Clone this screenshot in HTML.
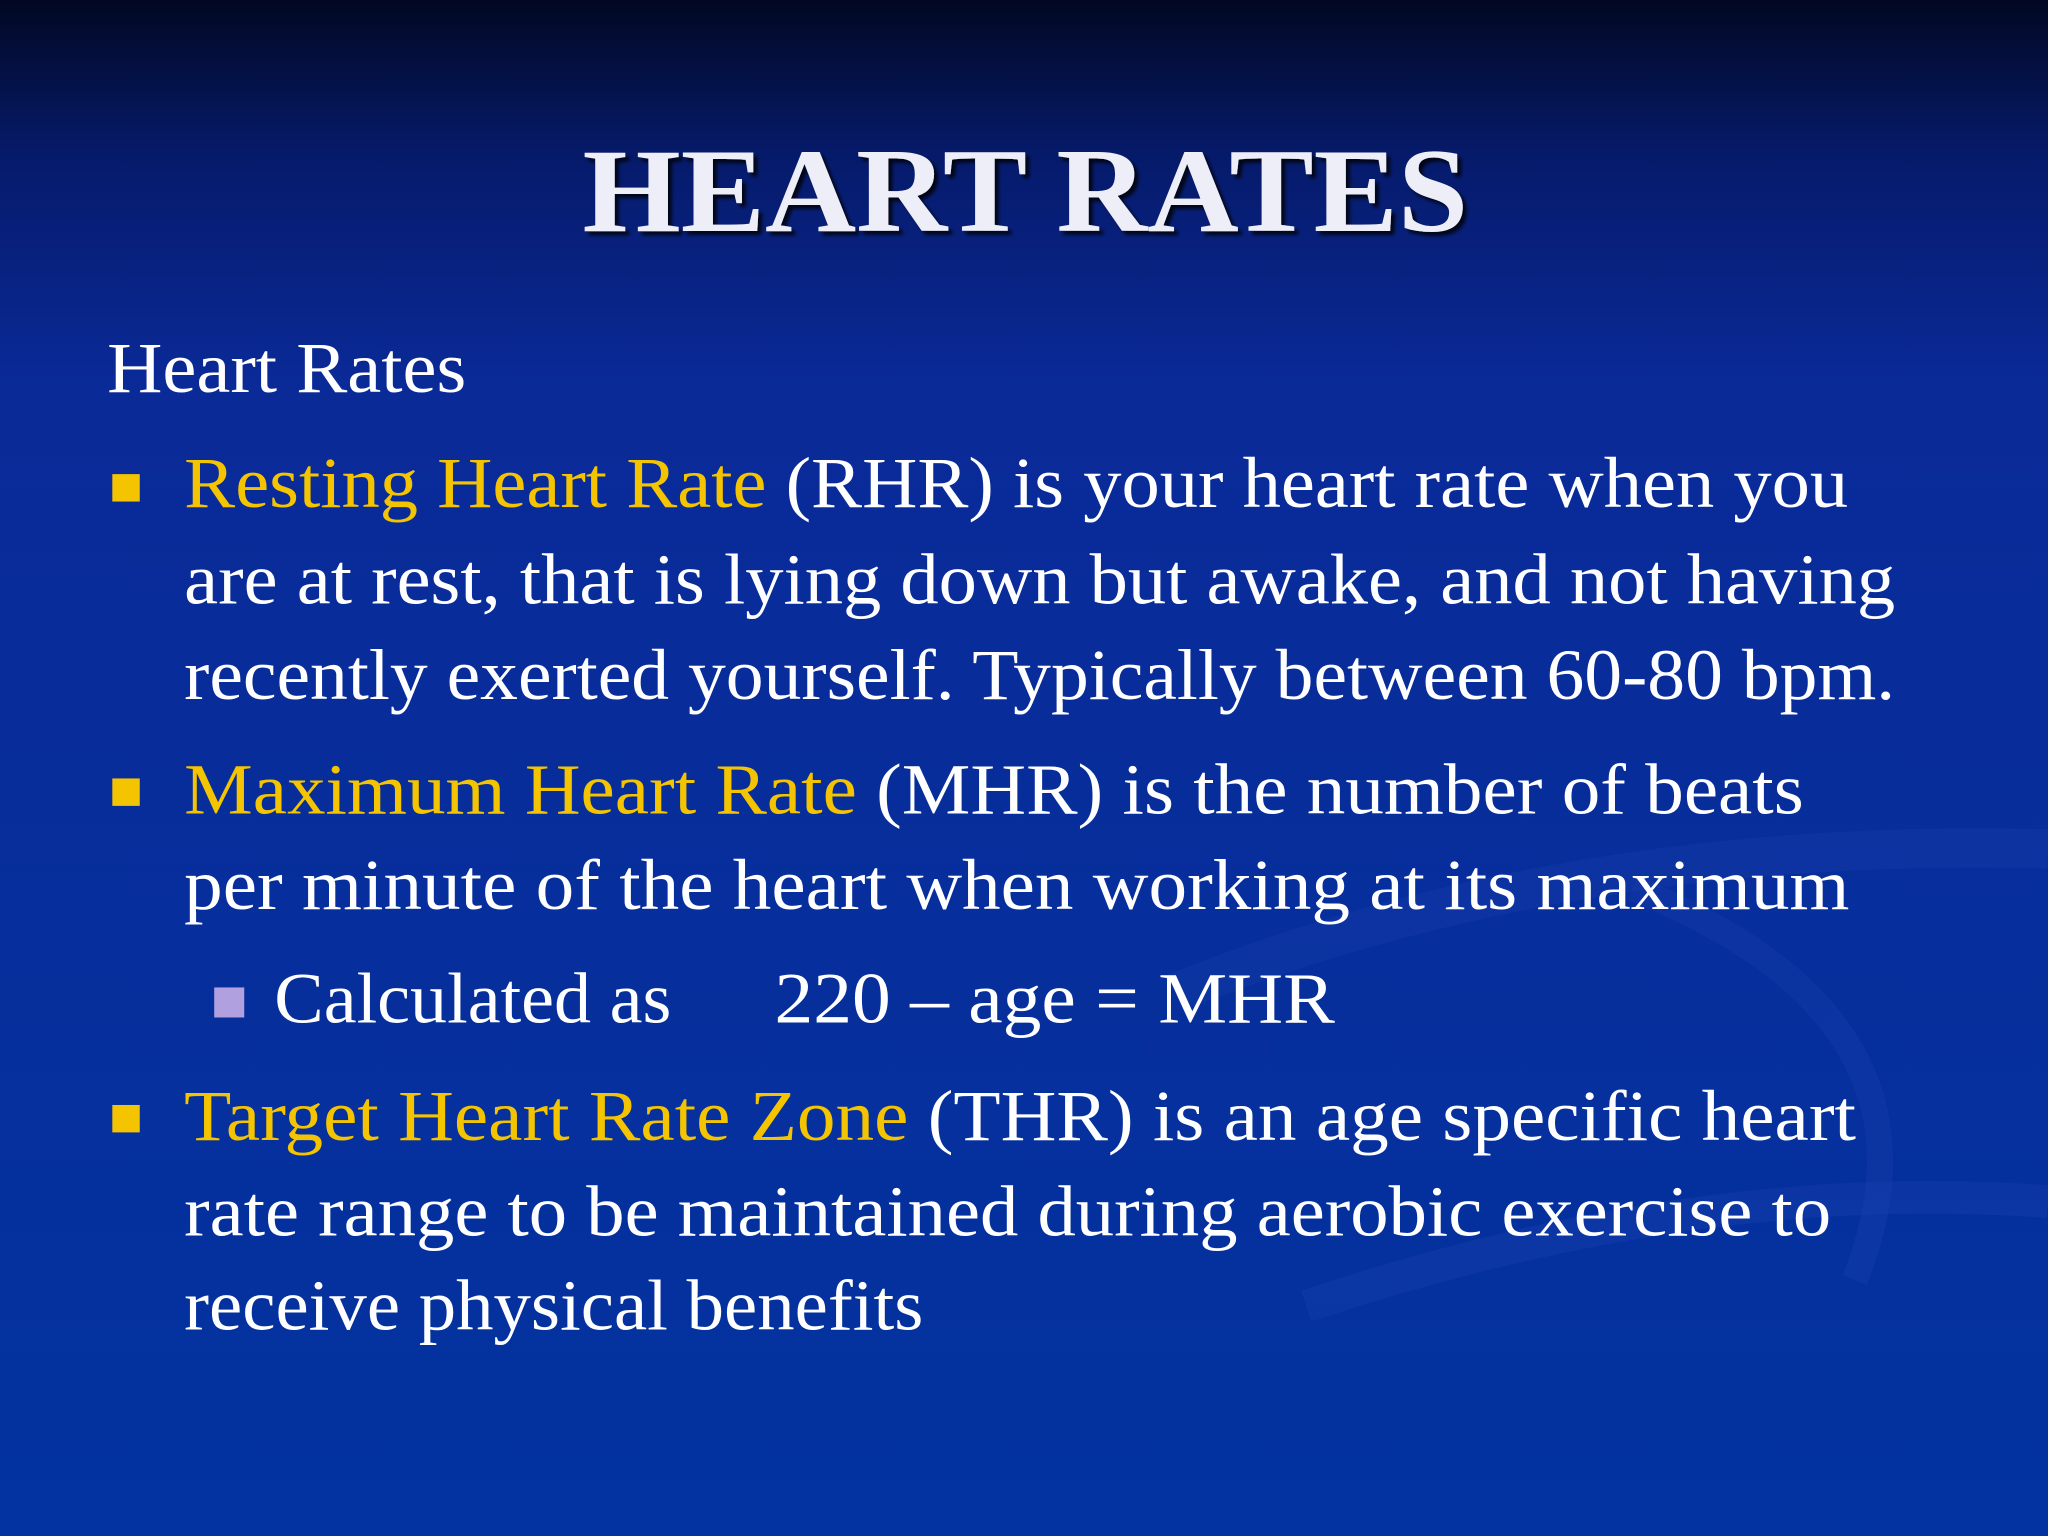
<!DOCTYPE html>
<html><head><meta charset="utf-8"><style>
html,body{margin:0;padding:0;width:2048px;height:1536px;overflow:hidden;background:#0a2a9a}
svg{display:block}
text{font-family:"Liberation Serif",serif}
</style></head><body>
<svg width="2048" height="1536" viewBox="0 0 1568 1176" xmlns="http://www.w3.org/2000/svg">
<defs>
<linearGradient id="bg" x1="0" y1="0" x2="0" y2="1">
<stop offset="0" stop-color="#020822"/>
<stop offset="0.1" stop-color="#061a6a"/>
<stop offset="0.25" stop-color="#0a2a98"/>
<stop offset="1" stop-color="#0233a0"/>
</linearGradient>
<filter id="sh"><feDropShadow dx="3" dy="3" stdDeviation="1.5" flood-color="#000" flood-opacity="0.8"/></filter>
</defs>
<rect width="1568" height="1176" fill="url(#bg)"/>
<g fill="none" stroke="#2a4ab8" stroke-opacity="0.2">
<path d="M900 760 Q1200 640 1568 650" stroke-width="30"/>
<path d="M1000 1000 Q1300 900 1568 920" stroke-width="25"/>
<path d="M1250 680 Q1500 780 1420 980" stroke-width="20"/>
</g>
<text x="785" y="177" text-anchor="middle" font-size="92" font-weight="bold" fill="#eeeef8" filter="url(#sh)" textLength="678" lengthAdjust="spacingAndGlyphs">HEART RATES</text>
<g font-size="55" fill="#ffffff">
<text x="82" y="300" textLength="275" lengthAdjust="spacingAndGlyphs">Heart Rates</text>
<rect x="86" y="363" width="21" height="21" fill="#f5c400"/>
<text x="141" y="388" textLength="1274" lengthAdjust="spacingAndGlyphs"><tspan fill="#f5c400">Resting Heart Rate</tspan> (RHR) is your heart rate when you</text>
<text x="141" y="462" textLength="1310" lengthAdjust="spacingAndGlyphs">are at rest, that is lying down but awake, and not having</text>
<text x="141" y="535" textLength="1310" lengthAdjust="spacingAndGlyphs">recently exerted yourself. Typically between 60-80 bpm.</text>
<rect x="86" y="596" width="21" height="21" fill="#f5c400"/>
<text x="141" y="623" textLength="1240" lengthAdjust="spacingAndGlyphs"><tspan fill="#f5c400">Maximum Heart Rate</tspan> (MHR) is the number of beats</text>
<text x="141" y="696" textLength="1275" lengthAdjust="spacingAndGlyphs">per minute of the heart when working at its maximum</text>
<rect x="164" y="756" width="23" height="23" fill="#b0a0e0"/>
<text x="210" y="783" textLength="304" lengthAdjust="spacingAndGlyphs">Calculated as</text>
<text x="593" y="783" textLength="429" lengthAdjust="spacingAndGlyphs">220 – age = MHR</text>
<rect x="86" y="846" width="21" height="21" fill="#f5c400"/>
<text x="141" y="873" textLength="1280" lengthAdjust="spacingAndGlyphs"><tspan fill="#f5c400">Target Heart Rate Zone</tspan> (THR) is an age specific heart</text>
<text x="141" y="946" textLength="1261" lengthAdjust="spacingAndGlyphs">rate range to be maintained during aerobic exercise to</text>
<text x="141" y="1018" textLength="566" lengthAdjust="spacingAndGlyphs">receive physical benefits</text>
</g>
</svg>
</body></html>
